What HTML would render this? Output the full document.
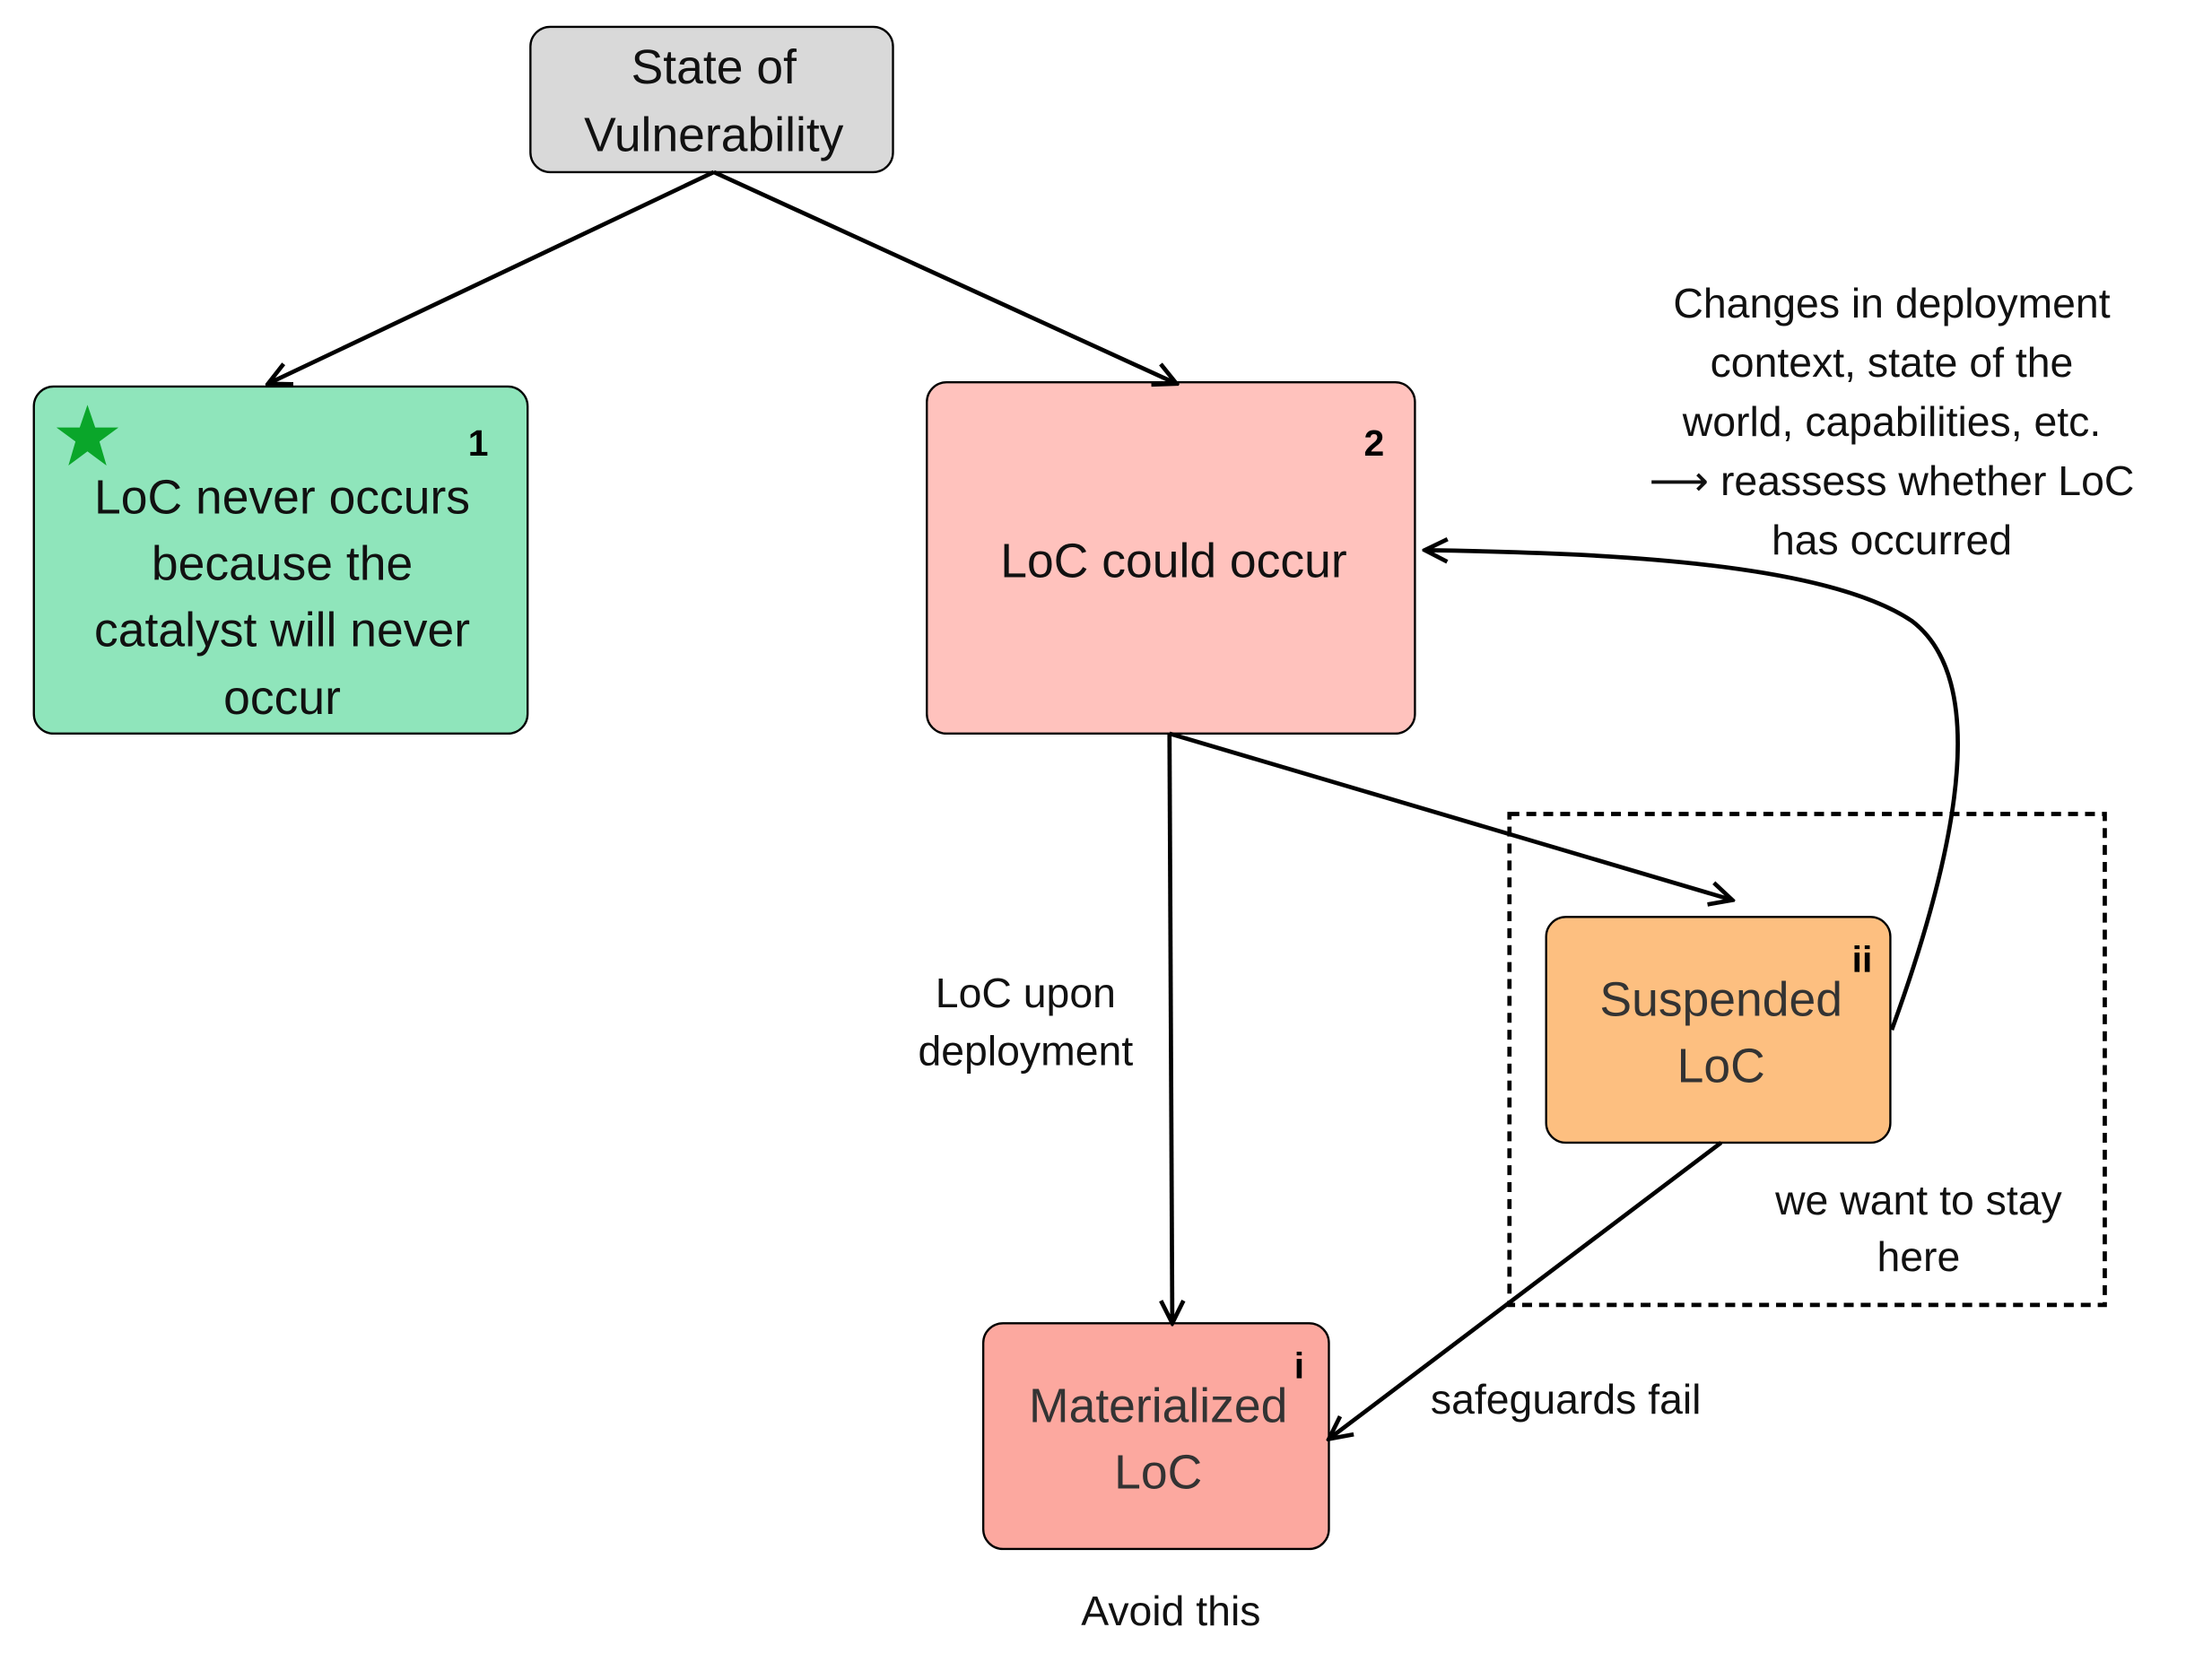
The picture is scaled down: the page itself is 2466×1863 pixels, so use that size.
<!DOCTYPE html>
<html><head><meta charset="utf-8"><style>html,body{margin:0;padding:0;background:#fff}svg{display:block}</style></head>
<body>
<svg width="2466" height="1863" viewBox="0 0 1568 1184.5" preserveAspectRatio="none" xmlns="http://www.w3.org/2000/svg" font-family="Liberation Sans, DejaVu Sans, sans-serif">
<defs>
<marker id="a" viewBox="0 0 20 20" refX="18" refY="10" markerWidth="20" markerHeight="20" markerUnits="userSpaceOnUse" orient="auto">
<path d="M2,2 L18,10 L2,18" fill="none" stroke="#000" stroke-width="3"/>
</marker>
</defs>
<rect x="376" y="19" width="257" height="103" rx="14" fill="#d9d9d9" stroke="#000" stroke-width="1.5"/>
<rect x="24" y="274" width="350" height="246" rx="14" fill="#8fe5bb" stroke="#000" stroke-width="1.5"/>
<rect x="657" y="271" width="346" height="249" rx="14" fill="#ffc2bd" stroke="#000" stroke-width="1.5"/>
<rect x="1096" y="650" width="244" height="160" rx="14" fill="#fdbf80" stroke="#000" stroke-width="1.5"/>
<rect x="697" y="938" width="245" height="160" rx="14" fill="#fca89f" stroke="#000" stroke-width="1.5"/>
<rect x="1070" y="577" width="422" height="348" fill="none" stroke="#000" stroke-width="3" stroke-dasharray="7,5"/>
<g stroke="#000" stroke-width="3" fill="none">
<line x1="506" y1="122" x2="190" y2="272" marker-end="url(#a)"/>
<line x1="506" y1="122" x2="834" y2="272" marker-end="url(#a)"/>
<line x1="829" y1="520" x2="831" y2="938" marker-end="url(#a)"/>
<line x1="829" y1="520" x2="1228" y2="638" marker-end="url(#a)"/>
<line x1="1220" y1="810" x2="942" y2="1020" marker-end="url(#a)"/>
<path d="M1341,730 C1392,590 1408,480 1355,440 C1295,400 1150,392 1010,390" marker-end="url(#a)"/>
</g>
<polygon points="62,287 67.5,303 84,303 70.5,313 75.5,330 62,320 48.5,330 53.5,313 40,303 56.5,303" fill="#0aa62a"/>
<g font-size="34" text-anchor="middle" fill="#111">
<text x="506" y="59">State of</text><text x="506" y="107">Vulnerability</text>
<text x="200" y="364">LoC never occurs</text><text x="200" y="411">because the</text><text x="200" y="458">catalyst will never</text><text x="200" y="506">occur</text>
<text x="832" y="409">LoC could occur</text>
<text x="1220" y="720" fill="#333">Suspended</text><text x="1220" y="767" fill="#333">LoC</text>
<text x="821" y="1008" fill="#333">Materialized</text><text x="821" y="1055" fill="#333">LoC</text>
</g>
<g font-size="26" font-weight="bold" text-anchor="middle" fill="#000">
<text x="339" y="323">1</text><text x="974" y="323">2</text><text x="1320" y="689">ii</text><text x="921" y="977">i</text>
</g>
<g font-size="29.5" text-anchor="middle" fill="#111">
<text x="1341" y="225">Changes in deployment</text><text x="1341" y="267">context, state of the</text><text x="1341" y="309">world, capabilities, etc.</text><text x="1341" y="351">⟶ reassess whether LoC</text><text x="1341" y="393">has occurred</text>
<text x="727" y="714">LoC upon</text><text x="727" y="755">deployment</text>
<text x="1360" y="861">we want to stay</text><text x="1360" y="901">here</text>
<text x="1110" y="1002">safeguards fail</text>
<text x="830" y="1152">Avoid this</text>
</g>
</svg>
</body></html>
